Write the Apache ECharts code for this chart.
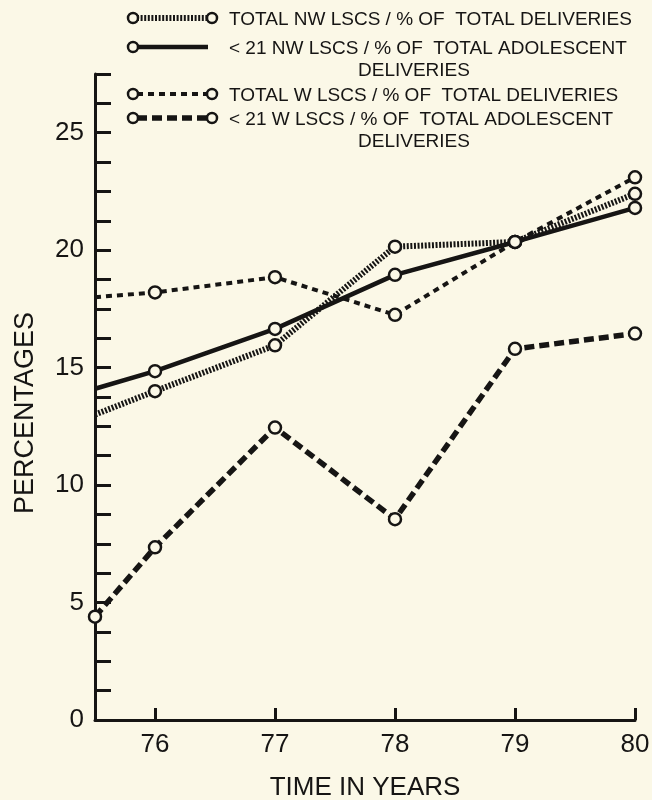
<!DOCTYPE html>
<html>
<head>
<meta charset="utf-8">
<script src="https://cdn.jsdelivr.net/npm/echarts@6/dist/echarts.min.js"></script>
<style>
html,body{margin:0;padding:0;background:#fbf8e7;}
#c{width:652px;height:800px;}
</style>
</head>
<body>
<div id="c"></div>
<script>
// ---- data ----
var years = [75.5, 76, 77, 78, 79, 80];
var xTickYears = [76, 77, 78, 79, 80];
var yTickLabels = [0, 5, 10, 15, 20, 25];
var totalNW = [13.0, 14.0, 15.95, 20.15, 20.35, 22.4];
var under21NW = [14.1, 14.85, 16.65, 18.95, 20.35, 21.8];
var totalW = [18.0, 18.2, 18.85, 17.25, 20.35, 23.1];
var under21W = [4.4, 7.35, 12.45, 8.55, 15.8, 16.45];
var seriesNames = [
  'TOTAL NW LSCS / % OF  TOTAL DELIVERIES',
  '< 21 NW LSCS / % OF  TOTAL ADOLESCENT',
  'TOTAL W LSCS / % OF  TOTAL DELIVERIES',
  '< 21 W LSCS / % OF  TOTAL ADOLESCENT'
];
var secondLine = ['', 'DELIVERIES', '', 'DELIVERIES'];

var INK = '#161514';
var BG = '#fbf8e7';
var FONT = '"Liberation Sans", Arial, sans-serif';

function pairs(vals, startSymbol) {
  return years.map(function (x, i) {
    var d = { value: [x, vals[i]] };
    if (i === 0 && !startSymbol) d.symbol = 'none';
    return d;
  });
}

var styles = [
  { width: 6, type: [2, 1.6] },
  { width: 4.5, type: 'solid' },
  { width: 4, type: [6, 5] },
  { width: 5.5, type: [10, 5] }
];
var dataSets = [totalNW, under21NW, totalW, under21W];

var series = dataSets.map(function (vals, k) {
  return {
    name: seriesNames[k],
    type: 'line',
    data: pairs(vals, k === 3),
    symbol: 'circle',
    symbolSize: 12,
    showSymbol: true,
    z: 3 + k,
    itemStyle: { color: BG, borderColor: INK, borderWidth: 2.5 },
    lineStyle: { color: INK, width: styles[k].width, type: styles[k].type, cap: 'butt' },
    emphasis: { disabled: true },
    animation: false
  };
});

// legend rows
var legendTops = [5, 34, 81, 105];
var legends = seriesNames.map(function (n, k) {
  return {
    data: [n],
    left: 123,
    top: legendTops[k],
    itemWidth: 95,
    itemHeight: 14,
    itemStyle: { opacity: 0 },
    lineStyle: { opacity: 0 },
    selectedMode: false,
    textStyle: {
      fontFamily: FONT, fontSize: 19, color: INK,
      rich: {
        a: { fontFamily: FONT, fontSize: 19, color: INK, lineHeight: 22 },
        b: { fontFamily: FONT, fontSize: 19, color: INK, lineHeight: 22, padding: [0, 0, 0, 129] }
      }
    },
    formatter: function (name) {
      var i = seriesNames.indexOf(name);
      return secondLine[i] ? '{a|' + name + '}\n{b|' + secondLine[i] + '}' : '{a|' + name + '}';
    }
  };
});

// legend swatches
var swY = [18, 47, 94, 118];
var graphics = [];
for (var k = 0; k < 4; k++) {
  var y = swY[k];
  graphics.push({
    type: 'line', z: 10,
    shape: { x1: 137, y1: y, x2: 208, y2: y },
    style: { stroke: INK, lineWidth: styles[k].width, lineDash: styles[k].type === 'solid' ? null : styles[k].type }
  });
  graphics.push({ type: 'circle', z: 11, shape: { cx: 133, cy: y, r: 5 }, style: { fill: BG, stroke: INK, lineWidth: 2.5 } });
  if (k !== 1) graphics.push({ type: 'circle', z: 11, shape: { cx: 212, cy: y, r: 5 }, style: { fill: BG, stroke: INK, lineWidth: 2.5 } });
}

var chart = echarts.init(document.getElementById('c'), null, { renderer: 'canvas' });
chart.setOption({
  backgroundColor: BG,
  animation: false,
  grid: { left: 95, right: 17, top: 74, bottom: 80, containLabel: false, outerBoundsMode: 'none' },
  legend: legends,
  graphic: graphics,
  xAxis: {
    type: 'value', min: 75.5, max: 80,
    name: 'TIME IN YEARS', nameLocation: 'middle', nameGap: 55,
    nameTextStyle: { fontFamily: FONT, fontSize: 26, color: INK },
    axisLine: { lineStyle: { color: INK, width: 3 } },
    axisTick: { inside: true, length: 12, lineStyle: { color: INK, width: 3 }, customValues: xTickYears },
    axisLabel: { fontFamily: FONT, fontSize: 26, color: INK, margin: 12, customValues: xTickYears },
    splitLine: { show: false }
  },
  yAxis: {
    type: 'value', min: 0, max: 27.5, interval: 1.25,
    name: 'PERCENTAGES', nameLocation: 'middle', nameGap: 56, nameRotate: 90,
    nameTextStyle: { fontFamily: FONT, fontSize: 27, color: INK, padding: [0, 32, 0, 0] },
    axisLine: { lineStyle: { color: INK, width: 3 } },
    axisTick: { inside: true, length: 16, lineStyle: { color: INK, width: 3 } },
    axisLabel: { fontFamily: FONT, fontSize: 26, color: INK, margin: 11, customValues: yTickLabels },
    splitLine: { show: false }
  },
  series: series
});
</script>
</body>
</html>
